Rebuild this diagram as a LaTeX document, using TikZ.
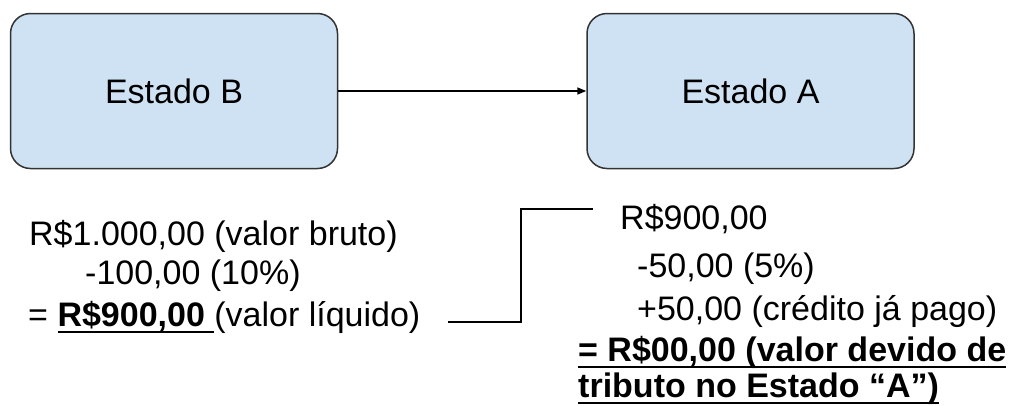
\documentclass[tikz,border=0pt]{standalone}
\usepackage{fontspec}
\setmainfont{Liberation Sans}
\usetikzlibrary{arrows.meta}
\definecolor{boxfill}{HTML}{CFE2F3}
\definecolor{boxline}{HTML}{333333}
\newsavebox\ulbox
\newcommand\ulx[2]{\sbox\ulbox{#2}\rlap{\rule[-#1]{\wd\ulbox}{2.2pt}}\usebox\ulbox}
\begin{document}
\begin{tikzpicture}[x=1pt,y=-1pt,
  statebox/.style={draw=boxline, line width=1.5pt, fill=boxfill, rounded corners=20pt,
    minimum width=327pt, minimum height=155pt, inner sep=0pt,
    font=\fontsize{34pt}{39pt}\selectfont},
  txt/.style={anchor=base west, inner sep=0pt, font=\fontsize{34pt}{39pt}\selectfont},
  conn/.style={draw=black, line width=1.5pt}]
\useasboundingbox (0,0) rectangle (1019,405);
\node[statebox] (B) at (174,91) {Estado B};
\node[statebox] (A) at (750.5,91) {Estado A};
\draw[conn, -{Triangle[length=9pt,width=7pt]}] (B.east) -- (A.west);
\node[txt] (L1) at (29,245) {R\$1.000,00 (valor bruto)};
\node[txt] (L2) at (85,284) {-100,00 (10\%)};
\node[txt] (L3) at (28,326) {= \ulx{7pt}{\bfseries R\$900,00 }(valor líquido)};
\node[txt] (R1) at (620,229) {R\$900,00};
\node[txt] (R2) at (637,277) {-50,00 (5\%)};
\node[txt] (R3) at (637,320) {+50,00 (crédito já pago)};
\node[txt] (R4) at (578,361) {\bfseries\ulx{7pt}{= R\$00,00 (valor devido de}};
\node[txt] (R5) at (578,397) {\bfseries\ulx{7pt}{tributo no Estado “A”)}};
\coordinate (cs) at (448,322);
\coordinate (ce) at (593,209);
\draw[conn] (cs) -- (521,322) |- (ce);
\end{tikzpicture}
\end{document}
